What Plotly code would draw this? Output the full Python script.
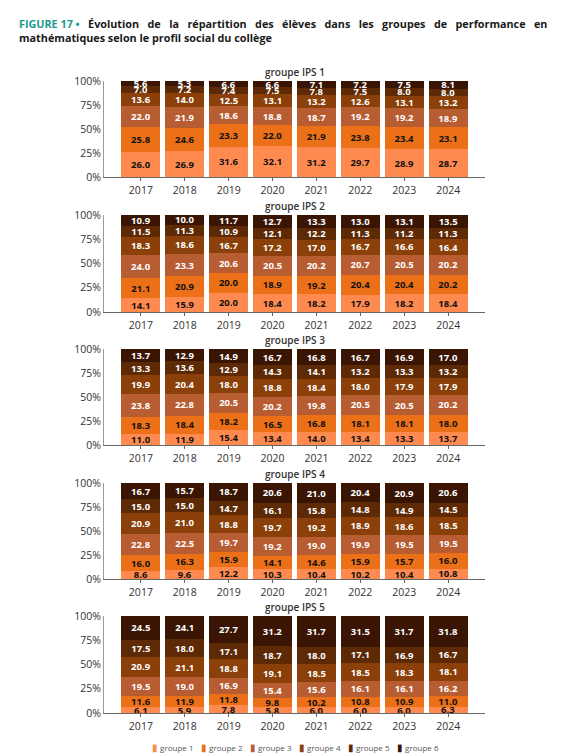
'''
figure 17: evolution of the distribution of pupils in maths performance groups
by social profile (IPS group) of the school, 2017-2024
'''
from plotly.subplots import make_subplots
import plotly.graph_objects as go

years = ['2017', '2018', '2019', '2020', '2021', '2022', '2023', '2024']
group_names = ['groupe 1', 'groupe 2', 'groupe 3', 'groupe 4', 'groupe 5', 'groupe 6']
panel_titles = ['groupe IPS 1', 'groupe IPS 2', 'groupe IPS 3', 'groupe IPS 4', 'groupe IPS 5']
y_ticks = [0, 25, 50, 75, 100]
y_tick_labels = ['0%', '25%', '50%', '75%', '100%']

### VALUES (%), one list per performance group, bottom to top ###
ips1_g1 = [26.0, 26.9, 31.6, 32.1, 31.2, 29.7, 28.9, 28.7]
ips1_g2 = [25.8, 24.6, 23.3, 22.0, 21.9, 23.8, 23.4, 23.1]
ips1_g3 = [22.0, 21.9, 18.6, 18.8, 18.7, 19.2, 19.2, 18.9]
ips1_g4 = [13.6, 14.0, 12.5, 13.1, 13.2, 12.6, 13.1, 13.2]
ips1_g5 = [7.0, 7.2, 7.4, 7.5, 7.8, 7.5, 8.0, 8.0]
ips1_g6 = [5.6, 5.3, 6.6, 6.6, 7.1, 7.2, 7.5, 8.1]

ips2_g1 = [14.1, 15.9, 20.0, 18.4, 18.2, 17.9, 18.2, 18.4]
ips2_g2 = [21.1, 20.9, 20.0, 18.9, 19.2, 20.4, 20.4, 20.2]
ips2_g3 = [24.0, 23.3, 20.6, 20.5, 20.2, 20.7, 20.5, 20.2]
ips2_g4 = [18.3, 18.6, 16.7, 17.2, 17.0, 16.7, 16.6, 16.4]
ips2_g5 = [11.5, 11.3, 10.9, 12.1, 12.2, 11.3, 11.2, 11.3]
ips2_g6 = [10.9, 10.0, 11.7, 12.7, 13.3, 13.0, 13.1, 13.5]

ips3_g1 = [11.0, 11.9, 15.4, 13.4, 14.0, 13.4, 13.3, 13.7]
ips3_g2 = [18.3, 18.4, 18.2, 16.5, 16.8, 18.1, 18.1, 18.0]
ips3_g3 = [23.8, 22.8, 20.5, 20.2, 19.8, 20.5, 20.5, 20.2]
ips3_g4 = [19.9, 20.4, 18.0, 18.8, 18.4, 18.0, 17.9, 17.9]
ips3_g5 = [13.3, 13.6, 12.9, 14.3, 14.1, 13.2, 13.3, 13.2]
ips3_g6 = [13.7, 12.9, 14.9, 16.7, 16.8, 16.7, 16.9, 17.0]

ips4_g1 = [8.6, 9.6, 12.2, 10.3, 10.4, 10.2, 10.4, 10.8]
ips4_g2 = [16.0, 16.3, 15.9, 14.1, 14.6, 15.9, 15.7, 16.0]
ips4_g3 = [22.8, 22.5, 19.7, 19.2, 19.0, 19.9, 19.5, 19.5]
ips4_g4 = [20.9, 21.0, 18.8, 19.7, 19.2, 18.9, 18.6, 18.5]
ips4_g5 = [15.0, 15.0, 14.7, 16.1, 15.8, 14.8, 14.9, 14.5]
ips4_g6 = [16.7, 15.7, 18.7, 20.6, 21.0, 20.4, 20.9, 20.6]

ips5_g1 = [6.1, 5.9, 7.8, 5.8, 6.0, 6.0, 6.0, 6.3]
ips5_g2 = [11.6, 11.9, 11.8, 9.8, 10.2, 10.8, 10.9, 11.0]
ips5_g3 = [19.5, 19.0, 16.9, 15.4, 15.6, 16.1, 16.1, 16.2]
ips5_g4 = [20.9, 21.1, 18.8, 19.1, 18.5, 18.5, 18.3, 18.1]
ips5_g5 = [17.5, 18.0, 17.1, 18.7, 18.0, 17.1, 16.9, 16.7]
ips5_g6 = [24.5, 24.1, 27.7, 31.2, 31.7, 31.5, 31.7, 31.8]

panels = [
    [ips1_g1, ips1_g2, ips1_g3, ips1_g4, ips1_g5, ips1_g6],
    [ips2_g1, ips2_g2, ips2_g3, ips2_g4, ips2_g5, ips2_g6],
    [ips3_g1, ips3_g2, ips3_g3, ips3_g4, ips3_g5, ips3_g6],
    [ips4_g1, ips4_g2, ips4_g3, ips4_g4, ips4_g5, ips4_g6],
    [ips5_g1, ips5_g2, ips5_g3, ips5_g4, ips5_g5, ips5_g6],
]

colors = ['#ff8a50', '#ec7018', '#b85c32', '#8a4008', '#5e2a06', '#3a1503']
text_colors = ['#111111', '#111111', '#ffffff', '#ffffff', '#ffffff', '#ffffff']
FONT = 'Open Sans'
W, H = 570, 755
OFF = 8  # the page body margin shifts the figure by 8px right and down


def px_x(x):
    '''page pixel (from left) -> paper fraction'''
    return (x - OFF) / W


def px_y(y):
    '''page pixel (from top) -> paper fraction'''
    return 1 - (y - OFF) / H


# page pixel positions of each panel (top = 100 %, bottom = 0 %)
panel_px = [(81, 177), (215, 312), (349, 445), (483, 579), (616, 713)]

fig = make_subplots(rows=5, cols=1)

for row, groups in enumerate(panels, start=1):
    for i, values in enumerate(groups):
        fig.add_trace(
            go.Bar(
                x=years, y=values, name=group_names[i],
                marker=dict(color=colors[i], line=dict(width=0)),
                text=[f'{v:.1f}' for v in values],
                textposition='inside', insidetextanchor='middle', textangle=0,
                textfont=dict(family=FONT, size=9.5, color=text_colors[i], weight='bold'),
                showlegend=False, hoverinfo='skip',
            ), row=row, col=1
        )

fig.update_layout(
    width=W, height=H, barmode='stack', bargap=0.11,
    margin=dict(l=0, r=0, t=0, b=0, autoexpand=False),
    paper_bgcolor='white', plot_bgcolor='white',
    font=dict(family=FONT, color='#333333'),
    uniformtext=dict(minsize=9.5, mode='show'),
    showlegend=False,
)

for row, (top, bottom) in enumerate(panel_px, start=1):
    fig.update_xaxes(
        domain=[px_x(104), px_x(485)], range=[-0.84, 7.84],
        showline=True, linecolor='#666666', linewidth=1,
        ticks='outside', ticklen=3, tickcolor='#666666',
        tickfont=dict(size=10.5, color='#333333'), showgrid=False,
        automargin=False, row=row, col=1,
    )
    fig.update_yaxes(
        domain=[px_y(bottom), px_y(top)], range=[0, 100],
        tickvals=y_ticks, ticktext=y_tick_labels,
        showline=True, linecolor='#999999', linewidth=1,
        tickfont=dict(size=10.5, color='#333333'), showgrid=False, zeroline=False,
        automargin=False, row=row, col=1,
    )
    fig.add_annotation(
        text=panel_titles[row - 1], xref='paper', yref='paper',
        x=px_x(295), y=px_y(top - 9), xanchor='center', yanchor='middle',
        showarrow=False, font=dict(family=FONT, size=10, color='#333333', weight=600),
    )

### LEGEND (compact swatch + label, as in the source layout) ###
for i, name in enumerate(group_names):
    fig.add_annotation(
        text=f"<span style='color:{colors[i]};font-size:10px'>▮</span> {name}",
        xref='paper', yref='paper', x=px_x(150 + 49 * i), y=px_y(747),
        xanchor='left', yanchor='middle', showarrow=False,
        font=dict(family=FONT, size=8, color='#555555'),
    )

### TITLE ###
gap = ' &nbsp;&nbsp;'
line1_words = ['Évolution', 'de', 'la', 'répartition', 'des', 'élèves', 'dans',
               'les', 'groupes', 'de', 'performance', 'en']
fig.add_annotation(
    text=("<span style='color:#1a9a8f'>FIGURE 17 •</span>" + gap
          + gap.join(line1_words) + "<br>"
          "mathématiques selon le profil social du collège"),
    xref='paper', yref='paper', x=px_x(17), y=px_y(14), xanchor='left', yanchor='top',
    align='left', showarrow=False,
    font=dict(family=FONT, size=10.8, color='#1a1a1a', weight='bold'),
)

fig.write_html('out.html')
